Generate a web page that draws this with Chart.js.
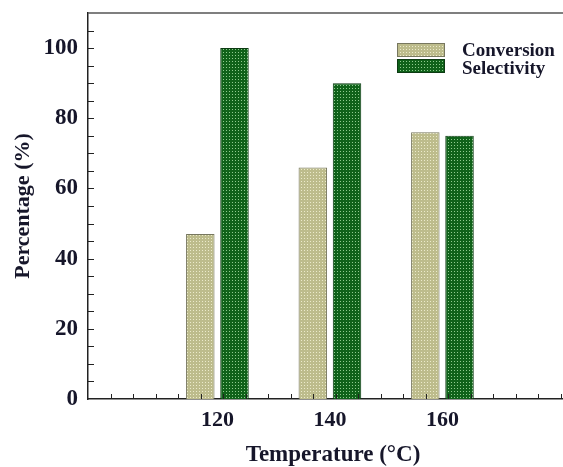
<!DOCTYPE html>
<html lang="en">
<head>
<meta charset="UTF-8">
<title>Conversion and selectivity vs temperature</title>
<script src="https://cdn.jsdelivr.net/npm/chart.js"></script>
<style>
    html, body { margin: 0; padding: 0; background: #fff; overflow: hidden; }
    /* the original plot frame runs past the right edge of the picture */
    #chart { display: block; }
</style>
</head>
<body>
<canvas id="chart" width="578" height="467"></canvas>
<script>
// data
const temperatures = [120, 140, 160];
const conversion = [47, 66, 76];
const selectivity = [100, 90, 75];
const seriesLabels = ['Conversion', 'Selectivity'];
const yTickLabels = [0, 20, 40, 60, 80, 100];

const textColor = '#16162a';
const serif = '"Liberation Serif", "Times New Roman", serif';

// inward minor ticks of the original axes
const xMinorTicks = [];
for (let v = 101; v <= 181; v += 4) xMinorTicks.push(v);
const yMinorTicks = [];
for (let v = 5; v <= 105; v += 5) yMinorTicks.push(v);

const canvas = document.getElementById('chart');
const ctx = canvas.getContext('2d');

function dotPattern(base, dot) {
    const c = document.createElement('canvas');
    c.width = 3; c.height = 3;
    const g = c.getContext('2d');
    g.fillStyle = base; g.fillRect(0, 0, 3, 3);
    g.fillStyle = dot; g.fillRect(1, 1, 1, 1);
    return ctx.createPattern(c, 'repeat');
}

const convFill = dotPattern('#bdbc8c', '#ebeacb');
const selFill = dotPattern('#10621a', '#8fcb8f');

const axisDecor = {
    id: 'axisDecor',
    afterDatasetsDraw(chart) {
        const { ctx, chartArea: a, scales: { x, y } } = chart;
        ctx.save();
        ctx.strokeStyle = '#222';
        ctx.lineWidth = 1;
        ctx.beginPath();
        xMinorTicks.forEach(v => {
            const px = Math.round(x.getPixelForValue(v)) + 0.5;
            ctx.moveTo(px, a.bottom);
            ctx.lineTo(px, a.bottom - 5);
        });
        yMinorTicks.forEach(v => {
            const py = Math.round(y.getPixelForValue(v)) + 0.5;
            ctx.moveTo(a.left, py);
            ctx.lineTo(a.left + 6, py);
        });
        ctx.stroke();
        // top frame line
        ctx.strokeStyle = '#555';
        ctx.lineWidth = 1.5;
        ctx.beginPath();
        ctx.moveTo(a.left, a.top);
        ctx.lineTo(a.right, a.top);
        ctx.stroke();
        ctx.restore();
    }
};

const boxLegend = {
    id: 'boxLegend',
    afterDraw(chart) {
        const { ctx, chartArea: a } = chart;
        const bx = a.left + 309;
        ctx.save();
        chart.data.datasets.forEach((ds, i) => {
            const by = a.top + 30 + i * 16;
            ctx.fillStyle = ds.backgroundColor;
            ctx.fillRect(bx, by, 48, 14);
            ctx.strokeStyle = ds.borderColor;
            ctx.lineWidth = 1;
            ctx.strokeRect(bx + 0.5, by + 0.5, 47, 13);
            ctx.fillStyle = textColor;
            ctx.font = 'bold 19px ' + serif;
            ctx.textBaseline = 'middle';
            ctx.textAlign = 'left';
            ctx.fillText(ds.label, bx + 65, a.top + 38 + i * 18.5);
        });
        ctx.restore();
    }
};

new Chart(ctx, {
    type: 'bar',
    data: {
        datasets: [
            {
                label: seriesLabels[0],
                data: temperatures.map((t, i) => ({ x: t, y: conversion[i] })),
                backgroundColor: convFill,
                borderColor: '#77775f',
                borderWidth: 1
            },
            {
                label: seriesLabels[1],
                data: temperatures.map((t, i) => ({ x: t, y: selectivity[i] })),
                backgroundColor: selFill,
                borderColor: '#0c3a12',
                borderWidth: 1
            }
        ]
    },
    options: {
        responsive: false,
        animation: false,
        categoryPercentage: 0.608,
        barPercentage: 0.833,
        layout: { padding: { top: 13, right: 0, bottom: 0, left: 0 } },
        plugins: {
            legend: { display: false },
            tooltip: { enabled: false }
        },
        scales: {
            x: {
                type: 'linear',
                min: 97,
                max: 184.1,
                offset: false,
                grid: { display: false, drawTicks: false, offset: false },
                border: { display: true, color: '#222', width: 1.5 },
                afterBuildTicks: s => { s.ticks = temperatures.map(v => ({ value: v })); },
                afterFit: s => { s.height = 68; },
                ticks: {
                    color: textColor,
                    padding: 8,
                    font: { family: serif, size: 22, weight: 'bold' }
                },
                title: {
                    display: true,
                    text: 'Temperature (°C)',
                    color: textColor,
                    padding: { top: 0, bottom: 0 },
                    font: { family: serif, size: 23, weight: 'bold', lineHeight: 1.05 }
                }
            },
            y: {
                min: 0,
                max: 110,
                grid: { display: false, drawTicks: false },
                border: { display: true, color: '#222', width: 1.5 },
                afterBuildTicks: s => { s.ticks = yTickLabels.map(v => ({ value: v })); },
                afterFit: s => { s.width = 88; s.paddingTop = 0; },
                ticks: {
                    color: textColor,
                    padding: 10,
                    font: { family: serif, size: 23, weight: 'bold' }
                },
                title: {
                    display: true,
                    text: 'Percentage (%)',
                    color: textColor,
                    padding: { top: 10, bottom: 0 },
                    font: { family: serif, size: 22, weight: 'bold' }
                }
            }
        }
    },
    plugins: [axisDecor, boxLegend]
});
</script>
</body>
</html>
